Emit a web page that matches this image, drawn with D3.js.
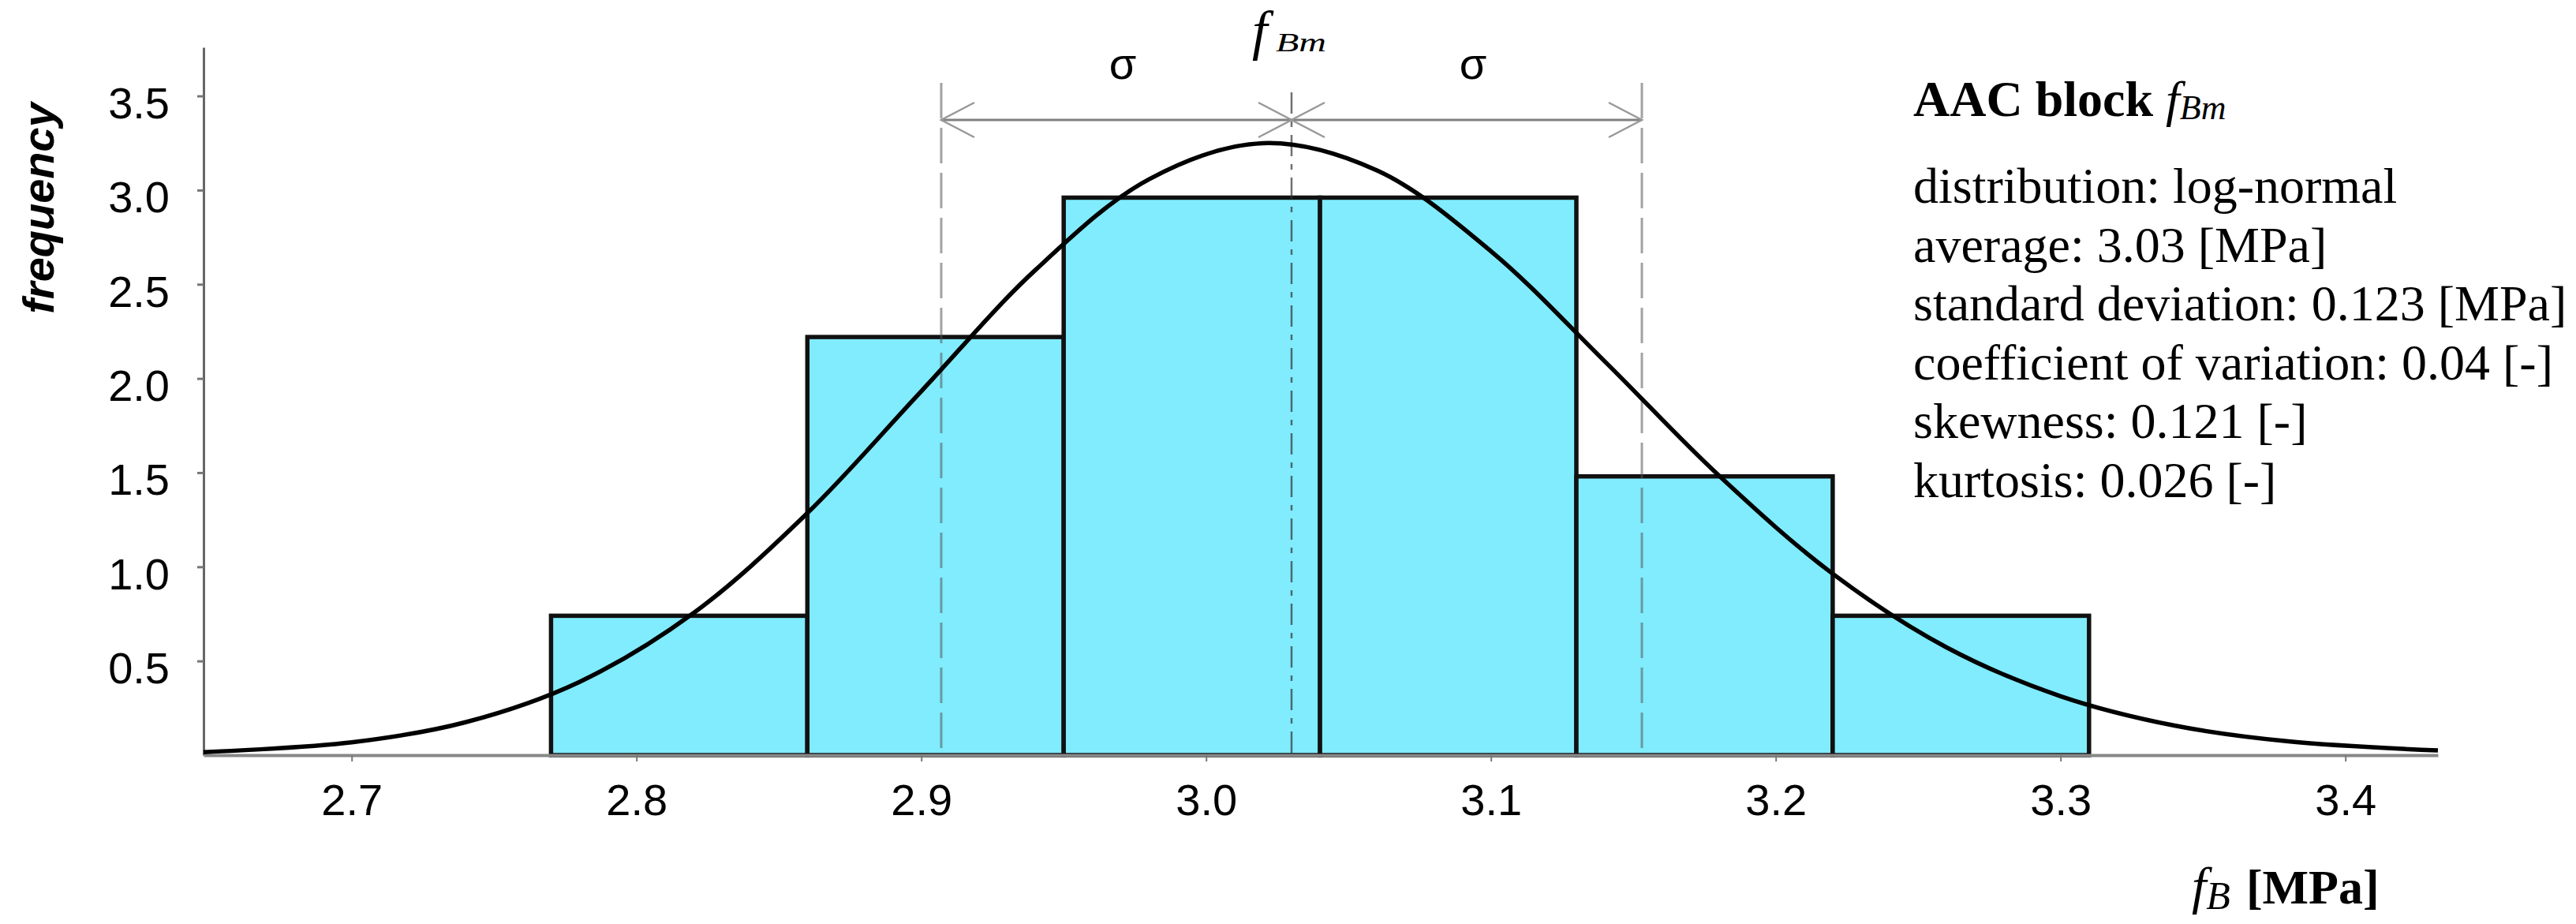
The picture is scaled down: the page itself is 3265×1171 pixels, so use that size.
<!DOCTYPE html>
<html>
<head>
<meta charset="utf-8">
<script src="https://cdn.jsdelivr.net/npm/d3@7/dist/d3.min.js"></script>
<style>
  body { margin: 0; background: #fff; }
  svg { display: block; }
</style>
</head>
<body>
<div id="chart"></div>
<script>
// histogram bins (edges) and heights
const binEdges = [2.77, 2.86, 2.95, 3.04, 3.13, 3.22, 3.31];
const binHeights = [0.74, 2.22, 2.96, 2.96, 1.48, 0.74];

// fitted density curve
const curveX = [2.648, 2.70, 2.74, 2.78, 2.82, 2.86, 2.90, 2.94, 2.98, 3.02, 3.06,
  3.10, 3.14, 3.18, 3.22, 3.26, 3.30, 3.34, 3.38, 3.4325];
const curveY = [0.016, 0.068, 0.175, 0.389, 0.754, 1.285, 1.932, 2.575, 3.058, 3.249, 3.104,
  2.676, 2.090, 1.485, 0.963, 0.572, 0.313, 0.157, 0.073, 0.025];

const meanValue = 3.03;
const sdValue = 0.123;

const xTicks = [2.7, 2.8, 2.9, 3.0, 3.1, 3.2, 3.3, 3.4];
const yTicks = [0.5, 1.0, 1.5, 2.0, 2.5, 3.0, 3.5];

const statsTitle = "AAC block ";
const statsLines = [
  "distribution: log-normal",
  "average: 3.03 [MPa]",
  "standard deviation: 0.123 [MPa]",
  "coefficient of variation: 0.04 [-]",
  "skewness: 0.121 [-]",
  "kurtosis: 0.026 [-]"
];

const width = 3265, height = 1171;
const x = d3.scaleLinear().domain([2.648, 3.4325]).range([258, 3090]);
const y = d3.scaleLinear().domain([0, 3.758]).range([957, 60]);

const svg = d3.select("#chart").append("svg")
  .attr("width", width)
  .attr("height", height)
  .attr("viewBox", `0 0 ${width} ${height}`);

svg.append("rect").attr("width", width).attr("height", height).attr("fill", "#fff");

// bars
const bins = binHeights.map((h, i) => ({ x0: binEdges[i], x1: binEdges[i + 1], h }));
svg.append("g")
  .selectAll("rect")
  .data(bins)
  .join("rect")
  .attr("x", d => x(d.x0))
  .attr("y", d => y(d.h))
  .attr("width", d => x(d.x1) - x(d.x0))
  .attr("height", d => y(0) - y(d.h))
  .attr("fill", "#80ecfe")
  .attr("stroke", "#111")
  .attr("stroke-width", 5.5);

// axes
const yAxis = svg.append("g")
  .attr("transform", `translate(${x.range()[0]},0)`)
  .call(d3.axisLeft(y).tickValues(yTicks).tickFormat(d3.format(".1f"))
    .tickSize(8).tickSizeOuter(0).tickPadding(35));
yAxis.select(".domain").attr("stroke", "#666").attr("stroke-width", 3);
yAxis.selectAll(".tick line").attr("stroke", "#777").attr("stroke-width", 3);
yAxis.selectAll(".tick text")
  .attr("dy", "0.5em")
  .style("font-family", "'Liberation Sans', Arial, sans-serif")
  .style("font-size", "56px")
  .attr("fill", "#000");

const xAxis = svg.append("g")
  .attr("transform", `translate(0,${y(0)})`)
  .call(d3.axisBottom(x).tickValues(xTicks).tickFormat(d3.format(".1f"))
    .tickSize(8).tickSizeOuter(0).tickPadding(28));
xAxis.select(".domain").attr("stroke", "#888").attr("stroke-width", 4);
xAxis.selectAll(".tick line").attr("stroke", "#777").attr("stroke-width", 2);
xAxis.selectAll(".tick text")
  .style("font-family", "'Liberation Sans', Arial, sans-serif")
  .style("font-size", "56px")
  .attr("fill", "#000");

// sigma and mean guide lines
const sigmaLeft = meanValue - sdValue, sigmaRight = meanValue + sdValue;
svg.append("g")
  .selectAll("line")
  .data([sigmaLeft, sigmaRight])
  .join("line")
  .attr("x1", d => x(d)).attr("x2", d => x(d))
  .attr("y1", 105).attr("y2", y(0))
  .attr("stroke", "#555")
  .attr("stroke-opacity", 0.55)
  .attr("stroke-width", 3)
  .attr("stroke-dasharray", "45,12");

svg.append("line")
  .attr("x1", x(meanValue)).attr("x2", x(meanValue))
  .attr("y1", 117).attr("y2", y(0))
  .attr("stroke", "#333")
  .attr("stroke-opacity", 0.7)
  .attr("stroke-width", 2.5)
  .attr("stroke-dasharray", "27,10,7,10");

// density curve
const line = d3.line()
  .x(d => x(d[0]))
  .y(d => y(d[1]))
  .curve(d3.curveCatmullRom);
svg.append("path")
  .datum(curveX.map((v, i) => [v, curveY[i]]))
  .attr("d", line)
  .attr("fill", "none")
  .attr("stroke", "#000")
  .attr("stroke-width", 5.5);

// dimension arrows
const arrowY = 152;
const arrows = svg.append("g").attr("stroke", "#808080").attr("fill", "none");
arrows.append("line")
  .attr("x1", x(sigmaLeft)).attr("x2", x(sigmaRight))
  .attr("y1", arrowY).attr("y2", arrowY)
  .attr("stroke-width", 3);
const heads = [
  { at: sigmaLeft, dir: 1 },
  { at: meanValue, dir: -1 },
  { at: meanValue, dir: 1 },
  { at: sigmaRight, dir: -1 }
];
arrows.selectAll("path")
  .data(heads)
  .join("path")
  .attr("d", d => {
    const px = x(d.at);
    return `M${px + d.dir * 42},${arrowY - 22}L${px},${arrowY}L${px + d.dir * 42},${arrowY + 22}`;
  })
  .attr("stroke", "#999")
  .attr("stroke-width", 2.5);

svg.append("g")
  .selectAll("text")
  .data([(sigmaLeft + meanValue) / 2, (meanValue + sigmaRight) / 2])
  .join("text")
  .attr("x", d => x(d) + 8)
  .attr("y", 100)
  .attr("text-anchor", "middle")
  .style("font-family", "'Liberation Sans', Arial, sans-serif")
  .style("font-size", "56px")
  .text("σ");

// f_Bm above the mean line
svg.append("text")
  .attr("x", x(meanValue) - 50)
  .attr("y", 62)
  .style("font-family", "'Liberation Serif', 'Times New Roman', serif")
  .style("font-style", "italic")
  .style("font-size", "70px")
  .text("f");
svg.append("text")
  .attr("x", x(meanValue) - 20)
  .attr("y", 65)
  .attr("textLength", 64)
  .attr("lengthAdjust", "spacingAndGlyphs")
  .style("font-family", "'Liberation Serif', 'Times New Roman', serif")
  .style("font-style", "italic")
  .style("font-size", "34px")
  .text("Bm");

// axis titles
svg.append("text")
  .attr("transform", "translate(68,264) rotate(-90)")
  .attr("text-anchor", "middle")
  .style("font-family", "'Liberation Sans', Arial, sans-serif")
  .style("font-weight", "bold")
  .style("font-style", "italic")
  .style("font-size", "56px")
  .text("frequency");

const xTitle = svg.append("text")
  .attr("x", 2778)
  .attr("y", 1145)
  .style("font-family", "'Liberation Serif', 'Times New Roman', serif");
xTitle.append("tspan").style("font-style", "italic").style("font-size", "66px").text("f");
xTitle.append("tspan").style("font-style", "italic").style("font-size", "50px")
  .attr("dy", 7).text("B");
xTitle.append("tspan").style("font-weight", "bold").style("font-size", "62px")
  .attr("dy", -7).attr("dx", 20).text("[MPa]");

// statistics block
const statsX = 2425;
const head = svg.append("text")
  .attr("x", statsX)
  .attr("y", 147)
  .style("font-family", "'Liberation Serif', 'Times New Roman', serif")
  .style("font-size", "64px");
head.append("tspan").style("font-weight", "bold").text(statsTitle);
head.append("tspan").style("font-style", "italic").text("f");
head.append("tspan").style("font-style", "italic").style("font-size", "44px")
  .attr("dy", 4).text("Bm");

svg.append("g")
  .selectAll("text")
  .data(statsLines)
  .join("text")
  .attr("x", statsX)
  .attr("y", (d, i) => 257 + i * 74.6)
  .style("font-family", "'Liberation Serif', 'Times New Roman', serif")
  .style("font-size", "64px")
  .text(d => d);
</script>
</body>
</html>
